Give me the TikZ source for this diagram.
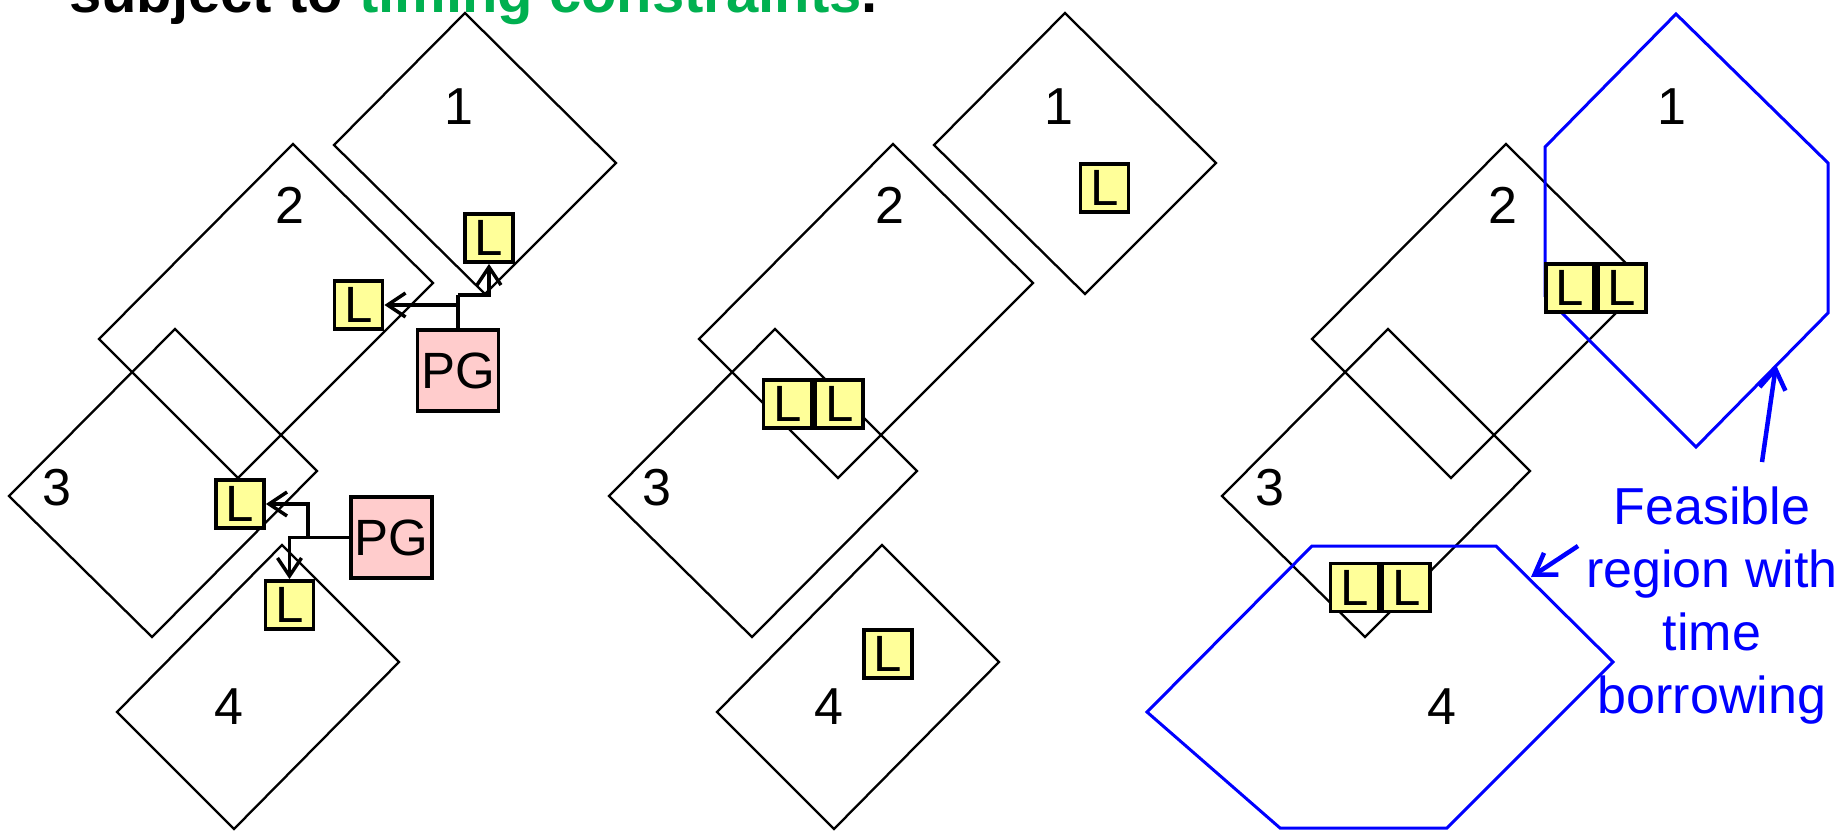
\documentclass[tikz,border=0pt]{standalone}
\usepackage{fontspec}
\setmainfont{Liberation Sans}
\usetikzlibrary{arrows.meta}
\definecolor{lyellow}{HTML}{FFFF99}
\definecolor{lpink}{HTML}{FFCCCC}
\definecolor{tgreen}{HTML}{00B050}
\begin{document}
\begin{tikzpicture}[x=1pt,y=-1pt,
  dshape/.style={draw=black,line width=2.3pt,line join=miter},
  feashex/.style={draw=blue,line width=3pt,line join=miter},
  lbox/.style={draw=black,fill=lyellow,line width=3.8pt,minimum size=48pt,inner sep=0pt,font=\fontsize{51}{51}\selectfont},
  pgbox/.style={draw=black,fill=lpink,line width=3.8pt,minimum size=81pt,inner sep=0pt,font=\fontsize{51}{51}\selectfont},
  num/.style={inner sep=0pt,font=\fontsize{52}{52}\selectfont},
  wire/.style={line width=3.5pt},
  conn/.style={line width=3.5pt,-{Straight Barb[length=18pt,width=24pt]}},
  barrow/.style={draw=blue,line width=4.5pt,-{Straight Barb[length=20pt,width=26pt]}},
  feas/.style={text=blue,align=center,inner sep=0pt,font=\fontsize{52}{63}\selectfont}
]
\useasboundingbox (0,0) rectangle (1841,830);
\clip (0,0) rectangle (1841,830);

% title (cut at the top)
\node[anchor=base west,inner sep=0pt,font=\fontsize{58}{58}\selectfont\bfseries] (title) at (69,12)
  {subject to \textcolor{tgreen}{timing constraints}.};

% ---------- panel 1 ----------
\draw[dshape] (465,13) -- (616,163) -- (485,294) -- (334,145) -- cycle;
\draw[dshape] (293,144) -- (433,283) -- (238,478) -- (99,339) -- cycle;
\draw[dshape] (175,329) -- (317,471) -- (152,637) -- (9,496) -- cycle;
\draw[dshape] (282,545) -- (399,662) -- (234,829) -- (117,712) -- cycle;
\node[num] (a1) at (459,107) {1};
\node[num] (a2) at (290,205) {2};
\node[num] (a3) at (57,488) {3};
\node[num] (a4) at (229,707) {4};

\node[lbox] (pa) at (489,238) {L};
\node[lbox] (pb) at (358.5,305) {L};
\node[pgbox] (pg1) at (458,370.5) {PG};
\coordinate (j1) at (458,295);
\draw[wire] (pg1.north) -- (j1);
\draw[conn] (j1) -| (pa.south);
\draw[conn] (pg1.north) |- (pb.east);

\node[lbox] (pc) at (240,504) {L};
\node[pgbox] (pg2) at (391.5,537.5) {PG};
\node[lbox] (pd) at (289.5,605) {L};
\coordinate (j2) at (308,537.5);
\draw[conn] (pg2.west) -| (pd.north);
\draw[conn] (j2) |- (pc.east);

% ---------- panel 2 ----------
\begin{scope}[xshift=600pt]
\draw[dshape] (465,13) -- (616,163) -- (485,294) -- (334,145) -- cycle;
\draw[dshape] (293,144) -- (433,283) -- (238,478) -- (99,339) -- cycle;
\draw[dshape] (175,329) -- (317,471) -- (152,637) -- (9,496) -- cycle;
\draw[dshape] (282,545) -- (399,662) -- (234,829) -- (117,712) -- cycle;
\node[num] (b1) at (459,107) {1};
\node[num] (b2) at (290,205) {2};
\node[num] (b3) at (57,488) {3};
\node[num] (b4) at (229,707) {4};
\node[lbox] (qa) at (504.5,188) {L};
\node[lbox] (qb) at (187.5,404) {L};
\node[lbox,anchor=west] (qc) at (qb.east) {L};
\node[lbox] (qd) at (288,654) {L};
\end{scope}

% ---------- panel 3 ----------
\begin{scope}[xshift=1213pt]
\draw[dshape] (293,144) -- (433,283) -- (238,478) -- (99,339) -- cycle;
\draw[dshape] (175,329) -- (317,471) -- (152,637) -- (9,496) -- cycle;
\end{scope}
\draw[feashex] (1676,14) -- (1828,163) -- (1828,313) -- (1696,447) -- (1545,296) -- (1545,147) -- cycle;
\draw[feashex] (1312,546) -- (1496,546) -- (1613,662) -- (1447,828) -- (1280,828) -- (1147,712) -- cycle;
\begin{scope}[xshift=1213pt]
\node[num] (c1) at (459,107) {1};
\node[num] (c2) at (290,205) {2};
\node[num] (c3) at (57,488) {3};
\node[num] (c4) at (229,707) {4};
\end{scope}
\node[lbox] (ra) at (1570,288) {L};
\node[lbox,anchor=west] (rb) at (ra.east) {L};
\node[lbox] (rc) at (1354.5,587.5) {L};
\node[lbox,anchor=west] (rd) at (rc.east) {L};

\node[feas] (ft) at (1712,606) {Feasible\\region with\\time\\borrowing};
\coordinate (f1s) at (1762,462);
\coordinate (f1e) at (1776,365);
\coordinate (f2s) at (1578,546);
\coordinate (f2e) at (1531,577);
\draw[barrow] (f1s) -- (f1e);
\draw[barrow] (f2s) -- (f2e);
\end{tikzpicture}
\end{document}
